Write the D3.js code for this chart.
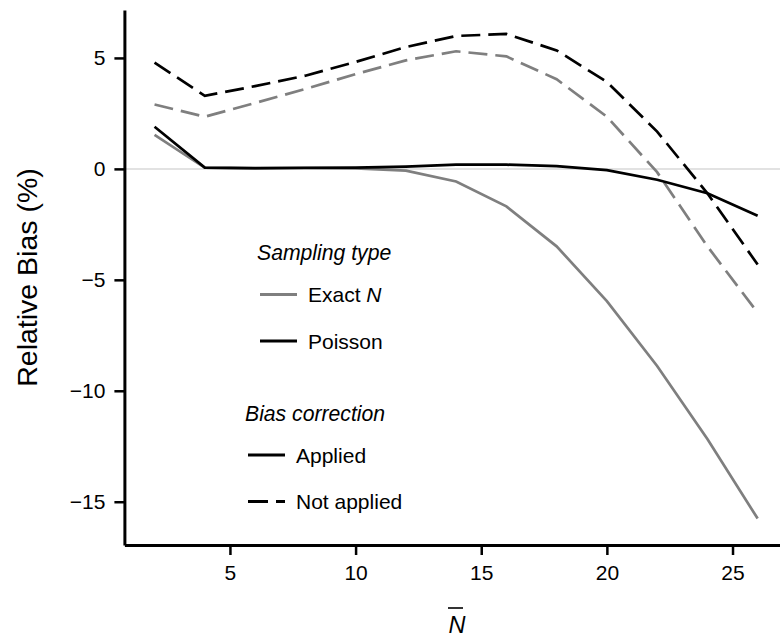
<!DOCTYPE html>
<html>
<head>
<meta charset="utf-8">
<script src="https://cdn.jsdelivr.net/npm/d3@7"></script>
<style>
  body { margin: 0; background: #fff; }
  svg { display: block; font-family: "Liberation Sans", Arial, Helvetica, sans-serif; }
</style>
</head>
<body>
<svg id="chart"></svg>
<script>
// mean population size on the x axis
const nBar = [2, 4, 6, 8, 10, 12, 14, 16, 18, 20, 22, 24, 26]

// relative bias (%) per sampling type and bias correction
const exactApplied = [1.53, 0.05, 0.02, 0.03, 0.02, -0.08, -0.57, -1.69, -3.49, -5.96, -8.88, -12.17, -15.76]
const poissonApplied = [1.9, 0.06, 0.03, 0.05, 0.06, 0.1, 0.19, 0.19, 0.12, -0.06, -0.49, -1.1, -2.11]
const exactNotApplied = [2.9, 2.35, 2.97, 3.6, 4.27, 4.89, 5.3, 5.07, 4.04, 2.35, -0.15, -3.49, -6.48]
const poissonNotApplied = [4.79, 3.29, 3.73, 4.2, 4.82, 5.49, 5.99, 6.08, 5.34, 3.92, 1.68, -1.1, -4.31]

const xTicks = [5, 10, 15, 20, 25]
const yTicks = [-15, -10, -5, 0, 5]

const samplingTypes = ['Exact', 'Poisson']
const corrections = ['Applied', 'Not applied']

const width = 780
const height = 639
const panelLeft = 124.4
const panelRight = 787.8
const panelTop = 10
const panelBottom = 545

const svg = d3.select('#chart')
  .attr('width', width)
  .attr('height', height)

const x = d3.scaleLinear()
  .domain([0.8, 27.2])
  .range([panelLeft, panelRight])

const y = d3.scaleLinear()
  .domain([-16.95, 7.16])
  .range([panelBottom, panelTop])

const colors = { 'Exact': '#7f7f7f', 'Poisson': '#000000' }
const dashes = { 'Applied': null, 'Not applied': '19,8' }

const series = [
  { type: 'Exact', corr: 'Not applied', values: exactNotApplied },
  { type: 'Exact', corr: 'Applied', values: exactApplied },
  { type: 'Poisson', corr: 'Not applied', values: poissonNotApplied },
  { type: 'Poisson', corr: 'Applied', values: poissonApplied },
]

// zero reference line
svg.append('line')
  .attr('x1', panelLeft)
  .attr('x2', width)
  .attr('y1', y(0))
  .attr('y2', y(0))
  .attr('stroke', '#d9d9d9')
  .attr('stroke-width', 1.5)

const line = d3.line()
  .x((d, i) => x(nBar[i]))
  .y(d => y(d))

svg.append('g')
  .selectAll('path')
  .data(series)
  .join('path')
    .attr('d', d => line(d.values))
    .attr('fill', 'none')
    .attr('stroke', d => colors[d.type])
    .attr('stroke-width', 2.7)
    .attr('stroke-dasharray', d => dashes[d.corr])

// axes
const xAxis = svg.append('g')
  .attr('transform', `translate(0, ${panelBottom})`)
  .call(d3.axisBottom(x).tickValues(xTicks).tickSize(10).tickSizeOuter(0).tickPadding(10))

const yAxis = svg.append('g')
  .attr('transform', `translate(${panelLeft}, 0)`)
  .call(d3.axisLeft(y).tickValues(yTicks).tickSize(10).tickSizeOuter(0).tickPadding(9))

;[xAxis, yAxis].forEach(ax => {
  ax.select('.domain').attr('stroke', '#000').attr('stroke-width', 3)
  ax.selectAll('.tick line').attr('stroke', '#000').attr('stroke-width', 2.5)
  ax.selectAll('.tick text')
    .attr('fill', '#000')
    .style('font-size', '21px')
    .style('font-family', '"Liberation Sans", Arial, sans-serif')
})

// axis titles
svg.append('text')
  .attr('transform', `translate(37, ${(panelTop + panelBottom) / 2}) rotate(-90)`)
  .attr('text-anchor', 'middle')
  .style('font-size', '28.5px')
  .text('Relative Bias (%)')

svg.append('text')
  .attr('x', 457)
  .attr('y', 633)
  .attr('text-anchor', 'middle')
  .style('font-size', '23.5px')
  .style('font-style', 'italic')
  .text('N')

svg.append('line')
  .attr('x1', 448)
  .attr('x2', 463)
  .attr('y1', 608)
  .attr('y2', 608)
  .attr('stroke', '#000')
  .attr('stroke-width', 1.6)

// legends
const legend1 = svg.append('g').attr('transform', 'translate(257, 0)')
legend1.append('text')
  .attr('x', 0)
  .attr('y', 260)
  .style('font-size', '21.2px')
  .style('font-style', 'italic')
  .text('Sampling type')

const items1 = legend1.selectAll('g.item')
  .data(samplingTypes)
  .join('g')
  .classed('item', true)
  .attr('transform', (_, i) => `translate(3, ${294.5 + i * 46.5})`)

items1.append('line')
  .attr('x1', 0).attr('x2', 37)
  .attr('stroke', d => colors[d])
  .attr('stroke-width', 3)

const t1 = items1.append('text')
  .attr('x', 48)
  .attr('y', 7.5)
  .style('font-size', '21px')
t1.filter(d => d === 'Exact').each(function () {
  const t = d3.select(this)
  t.append('tspan').text('Exact ')
  t.append('tspan').style('font-style', 'italic').text('N')
})
t1.filter(d => d !== 'Exact').text(d => d)

const legend2 = svg.append('g').attr('transform', 'translate(245, 0)')
legend2.append('text')
  .attr('x', 0)
  .attr('y', 421)
  .style('font-size', '21.2px')
  .style('font-style', 'italic')
  .text('Bias correction')

const items2 = legend2.selectAll('g.item')
  .data(corrections)
  .join('g')
  .classed('item', true)
  .attr('transform', (_, i) => `translate(3, ${455 + i * 46.5})`)

items2.append('line')
  .attr('x1', 0).attr('x2', 37)
  .attr('stroke', '#000')
  .attr('stroke-width', 3)
  .attr('stroke-dasharray', d => dashes[d] ? '20,8' : null)

items2.append('text')
  .attr('x', 48)
  .attr('y', 7.5)
  .style('font-size', '21px')
  .text(d => d)
</script>
</body>
</html>
